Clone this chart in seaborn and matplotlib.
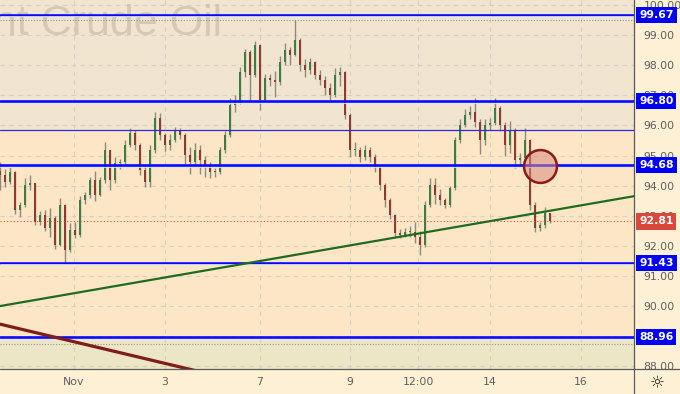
import numpy as np
import matplotlib
matplotlib.use("Agg")
import matplotlib.pyplot as plt
import matplotlib.transforms as mtransforms
import seaborn as sns

# ---------------- data (Brent, bars at ~equal spacing) ----------------
first_open = 94.50
close = [94.35, 94.12, 94.45, 93.19, 93.35, 94.02, 94.09, 92.79, 93.02, 92.59,
         92.92, 92.03, 93.35, 91.86, 92.52, 92.36, 93.52, 93.69, 94.19, 93.69,
         94.19, 95.18, 94.19, 94.75, 94.78, 95.35, 95.75, 95.35, 94.52, 94.12,
         95.18, 96.25, 95.68, 95.35, 95.51, 95.85, 95.68, 95.02, 94.78, 95.18,
         94.85, 94.68, 94.45, 94.45, 95.18, 95.68, 96.68, 96.78, 97.77, 98.44,
         97.67, 98.67, 96.84, 97.57, 97.51, 97.44, 98.11, 98.50, 98.34, 98.84,
         98.01, 97.84, 98.11, 97.67, 97.51, 97.24, 97.01, 97.67, 97.77, 96.35,
         95.18, 95.18, 94.95, 95.18, 94.95, 94.62, 94.02, 93.52, 93.02, 92.43,
         92.36, 92.46, 92.46, 92.29, 92.03, 93.35, 94.02, 93.69, 93.52, 93.35,
         93.92, 95.51, 96.01, 96.35, 96.45, 96.11, 95.51, 96.01, 96.08, 96.58,
         96.01, 95.35, 95.85, 94.85, 94.92, 95.51, 93.35, 92.59, 92.69, 93.09,
         92.81]
high = [94.78, 94.55, 94.62, 94.50, 93.45, 94.25, 94.35, 94.10, 93.15, 93.20,
        93.25, 93.00, 93.60, 93.40, 92.75, 92.80, 93.65, 93.80, 94.30, 94.50,
        94.30, 95.45, 95.20, 94.95, 94.90, 95.50, 95.90, 95.85, 95.40, 94.70,
        95.35, 96.45, 96.40, 95.75, 95.70, 95.95, 95.90, 95.75, 95.30, 95.40,
        95.35, 95.00, 94.80, 94.60, 95.30, 95.80, 96.90, 97.00, 97.95, 98.55,
        98.50, 98.80, 98.70, 97.70, 97.70, 97.80, 98.30, 98.75, 98.60, 99.50,
        98.90, 98.20, 98.25, 98.15, 97.85, 97.65, 97.40, 97.90, 97.95, 97.80,
        96.40, 95.45, 95.30, 95.35, 95.30, 95.05, 94.70, 94.10, 93.60, 93.05,
        92.55, 92.60, 92.65, 92.80, 92.50, 93.50, 94.25, 94.25, 93.90, 93.60,
        94.00, 95.60, 96.20, 96.55, 96.65, 96.90, 96.20, 96.20, 96.25, 96.90,
        96.65, 96.10, 96.15, 95.90, 95.10, 95.90, 95.55, 93.45, 92.80, 93.30,
        93.10]
low = [93.85, 93.95, 94.05, 93.05, 92.95, 93.30, 93.85, 92.70, 92.70, 92.50,
       92.30, 91.90, 92.00, 91.43, 91.80, 92.25, 92.30, 93.40, 93.60, 93.50,
       93.65, 94.10, 93.85, 94.10, 94.55, 94.70, 95.30, 95.20, 94.35, 93.95,
       93.95, 95.10, 95.50, 95.15, 95.20, 95.45, 95.55, 94.70, 94.40, 94.70,
       94.40, 94.30, 94.25, 94.30, 94.40, 95.10, 95.60, 96.45, 96.70, 97.60,
       96.80, 97.60, 96.50, 96.80, 97.30, 96.95, 97.35, 98.00, 98.00, 98.30,
       97.80, 97.60, 97.70, 97.55, 97.35, 97.00, 96.80, 96.95, 97.30, 96.20,
       94.95, 95.00, 94.80, 94.85, 94.80, 94.45, 93.85, 93.30, 92.90, 92.30,
       92.25, 92.30, 92.30, 92.10, 91.70, 91.95, 93.30, 93.40, 93.35, 93.25,
       93.30, 93.85, 95.40, 95.95, 96.20, 95.95, 95.05, 95.35, 95.85, 96.00,
       95.80, 95.00, 95.10, 94.60, 94.70, 94.85, 93.20, 92.45, 92.50, 92.60,
       92.75]

levels = [99.67, 96.80, 94.68, 91.43, 88.96]
thin_level = 95.85
last_price = 92.81
dotted_levels = [99.50, 88.75]
up_trend_x, up_trend_y = [0.0, 126.8], [90.00, 93.65]
down_trend_x, down_trend_y = [0.0, 40.0], [89.40, 87.82]
circle_x, circle_y = [108.0], [94.65]
price_ticks = [88, 89, 90, 91, 92, 93, 94, 95, 96, 97, 98, 99, 100]
date_pos = [14.8, 33.0, 52.0, 70.0, 83.6, 98.0, 116.2]
date_labels = ["Nov", "3", "7", "9", "12:00", "14", "16"]

# ---------------- style ----------------
sns.set_theme(style="white")
plt.rcParams["font.family"] = ["DejaVu Sans"]

W, H = 680, 394
AX_R, AX_B = 634, 369
fig = plt.figure(figsize=(W / 100, H / 100), dpi=100, facecolor="#fdf0d5")
ax = fig.add_axes([0, 1 - AX_B / H, AX_R / W, AX_B / H])
ax.set_facecolor("#fce6c5")
ax.set_xlim(0, 126.8)
ax.set_ylim(87.91, 100.166)

# background zones
ax.axhspan(thin_level, 101, color="#f1e5cf", zorder=0, lw=0)
ax.axhspan(87, levels[-1], color="#ece6c6", zorder=0, lw=0)

# grid
for p in price_ticks:
    ax.axhline(p, color="#d6cfc3", lw=0.8, ls=(0, (4, 4)), zorder=0.5)
for d in date_pos:
    ax.axvline(d, color="#d6cfc3", lw=0.8, ls=(0, (4, 4)), zorder=0.5)

# watermark
ax.text(222 / AX_R, 1 - 35 / AX_B, "Brent Crude Oil", transform=ax.transAxes,
        ha="right", va="baseline", fontsize=31, family="Liberation Sans",
        color="#cdc2b0", alpha=0.8, zorder=0.6)

# candles
opens = [first_open] + close[:-1]
x = np.arange(len(close))
o = np.array(opens); c = np.array(close)
ax.vlines(x, low, high, color="#8e8a82", lw=1.0, zorder=2)
body_lo = np.minimum(o, c)
body_h = np.maximum(np.abs(c - o), 0.04)
cols = ["#3d7d45" if cc >= oo else "#8e3a30" for oo, cc in zip(o, c)]
ax.bar(x, body_h, bottom=body_lo, width=0.42, color=cols, lw=0, zorder=3)

# levels
for lv in levels:
    ax.axhline(lv, color="#0a0aff", lw=1.9, zorder=4)
    ax.axhline(lv - 0.045, color="#dfe8f5", lw=0.6, zorder=4)
ax.axhline(thin_level, color="#2a2ae6", lw=0.9, zorder=4)
for dl in dotted_levels:
    ax.axhline(dl, color="#9a948a", lw=0.8, ls=(0, (1, 1.5)), zorder=4)
ax.axhline(last_price, color="#e04a3a", lw=0.8, ls=(0, (1, 2)), zorder=4)

# trend lines
sns.lineplot(x=up_trend_x, y=up_trend_y, ax=ax, color="#1f6b1f", lw=1.6, zorder=5)
sns.lineplot(x=down_trend_x, y=down_trend_y, ax=ax, color="#7f1c1c", lw=2.3, zorder=5)

# circle marker
ax.scatter(circle_x, circle_y, s=560, facecolor=(0.85, 0.55, 0.50, 0.55),
           edgecolor="#8b1a1a", linewidth=1.8, zorder=6)

# axes / ticks
ax.yaxis.tick_right()
ax.set_yticks(price_ticks)
ax.set_yticklabels([f"{p:.2f}" for p in price_ticks])
ax.set_xticks(date_pos)
ax.set_xticklabels(date_labels)
ax.tick_params(axis="y", length=0, pad=7, labelsize=7.8, labelcolor="#5e5e5e")
ax.tick_params(axis="x", length=0, pad=6, labelsize=7.8, labelcolor="#5e5e5e")
for s in ["top", "left", "right", "bottom"]:
    ax.spines[s].set_visible(False)

# right-scale labels
trans = mtransforms.blended_transform_factory(ax.transAxes, ax.transData)
for lv in levels:
    ax.text(639 / AX_R, lv, f"{lv:.2f}", transform=trans, ha="left", va="center",
            color="white", fontsize=7.8, fontweight="bold", zorder=10, clip_on=False,
            bbox=dict(boxstyle="square,pad=0.28", fc="#0000f5", ec="none"))
ax.text(639 / AX_R, last_price, f"{last_price:.2f}", transform=trans, ha="left", va="center",
        color="white", fontsize=7.8, fontweight="bold", zorder=10, clip_on=False,
        bbox=dict(boxstyle="square,pad=0.28", fc="#d9483a", ec="none"))

# frame lines across the figure
fig.add_artist(plt.Line2D([AX_R / W, AX_R / W], [0, 1], color="#5a5a5a", lw=0.9,
                          transform=fig.transFigure))
fig.add_artist(plt.Line2D([0, 1], [1 - AX_B / H, 1 - AX_B / H], color="#5a5a5a", lw=0.9,
                          transform=fig.transFigure))
fig.text(657 / W, 1 - 383 / H, "\u263C", ha="center", va="center", fontsize=12, color="#222222")

fig.savefig("out.png", dpi=100, facecolor=fig.get_facecolor())
